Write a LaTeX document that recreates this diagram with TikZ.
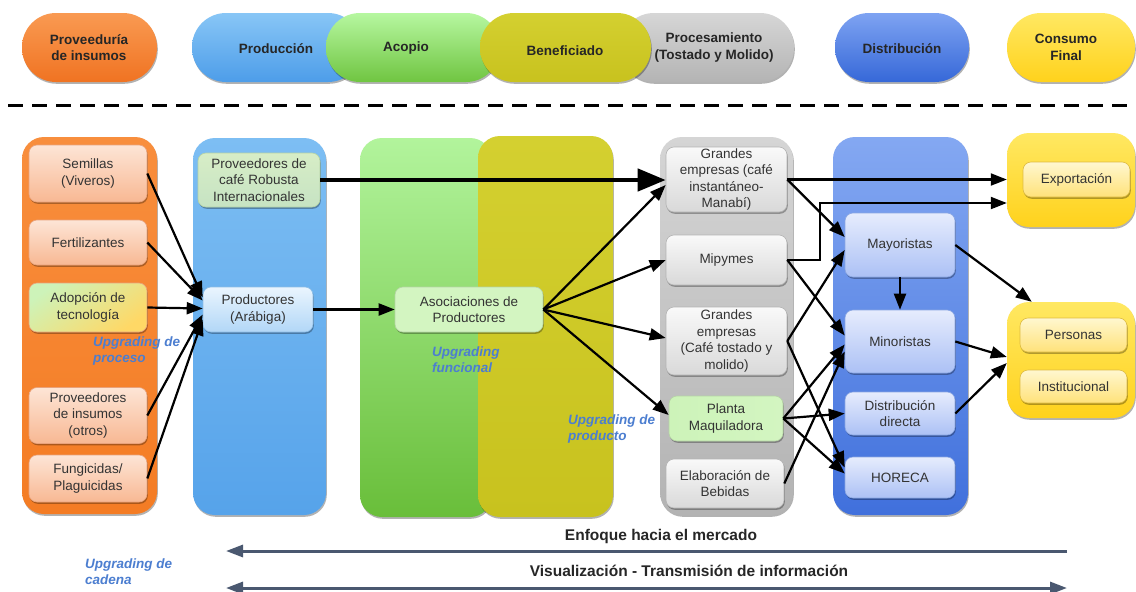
\documentclass[tikz,border=0pt]{standalone}
\usepackage{fontspec}
\setmainfont{Liberation Sans}
\usetikzlibrary{arrows.meta,shadows,calc}

\definecolor{provT}{HTML}{F99A52}\definecolor{provB}{HTML}{F07322}
\definecolor{orT}{HTML}{F88E3D}\definecolor{orB}{HTML}{F47C24}
\definecolor{peachT}{HTML}{FDE5D6}\definecolor{peachB}{HTML}{F8B893}\definecolor{peachD}{HTML}{E9A27C}
\definecolor{bluT}{HTML}{88C6F6}\definecolor{bluB}{HTML}{4D9DE9}
\definecolor{cbluT}{HTML}{7DBEF3}\definecolor{cbluB}{HTML}{56A3EA}
\definecolor{grnT}{HTML}{B6F7A0}\definecolor{grnB}{HTML}{70C541}
\definecolor{cgrnT}{HTML}{B2F49C}\definecolor{cgrnB}{HTML}{69BE3A}
\definecolor{olT}{HTML}{D4D030}\definecolor{olB}{HTML}{C8C21E}
\definecolor{greyT}{HTML}{D6D6D6}\definecolor{greyB}{HTML}{B4B4B4}
\definecolor{cgrT}{HTML}{D5D5D5}\definecolor{cgrB}{HTML}{B3B3B3}
\definecolor{gboxT}{HTML}{F9F9F9}\definecolor{gboxB}{HTML}{D9D9D9}\definecolor{gboxD}{HTML}{B3B3B3}
\definecolor{distT}{HTML}{7EA3F2}\definecolor{distB}{HTML}{3668D8}
\definecolor{cdT}{HTML}{84A8F2}\definecolor{cdB}{HTML}{4070DC}
\definecolor{lbT}{HTML}{E6ECFD}\definecolor{lbB}{HTML}{ACC1F5}\definecolor{lbD}{HTML}{8AA6E2}
\definecolor{yelT}{HTML}{FFE862}\definecolor{yelB}{HTML}{FFD21C}
\definecolor{ybT}{HTML}{FFF7CF}\definecolor{ybB}{HTML}{FFE27A}\definecolor{ybD}{HTML}{DDBB40}
\definecolor{prodbT}{HTML}{EAF5FE}\definecolor{prodbB}{HTML}{B2D7F7}\definecolor{prodbD}{HTML}{8DBDE6}
\definecolor{robT}{HTML}{D7EDC6}\definecolor{robB}{HTML}{C6E3C3}\definecolor{robD}{HTML}{B5D3A5}
\definecolor{gyG}{HTML}{CDF3B9}\definecolor{gyY}{HTML}{FFD866}
\definecolor{asocG}{HTML}{D3F5C1}\definecolor{asocY}{HTML}{F3EDA4}
\definecolor{upgblue}{HTML}{4C7ED0}
\definecolor{slate}{HTML}{4A5870}
\definecolor{hdtext}{HTML}{262626}
\definecolor{boxtext}{HTML}{333333}

\tikzset{
  shadowed/.style={drop shadow={shadow xshift=0.8pt,shadow yshift=-1.8pt,opacity=0.3,fill=black}},
  cont/.style={rounded corners=22pt, inner sep=0pt, shadowed},
  pill/.style={rounded corners=34pt, inner sep=0pt, minimum height=69pt, shadowed},
  htext/.style={font=\fontsize{13.5}{16.5}\selectfont\bfseries, text=hdtext, align=center, inner sep=0pt},
  box/.style={rounded corners=8pt, inner sep=0pt, align=center, font=\fontsize{13.5}{16.5}\selectfont, text=boxtext, shadowed, line width=0.6pt},
  peach/.style={box, top color=peachT, bottom color=peachB, draw=peachD},
  gbox/.style={box, top color=gboxT, bottom color=gboxB, draw=gboxD},
  lbox/.style={box, top color=lbT, bottom color=lbB, draw=lbD},
  ybox/.style={box, top color=ybT, bottom color=ybB, draw=ybD},
  arr/.style={line width=2.2pt, -{Triangle[length=16pt,width=12pt]}},
  bigarr/.style={line width=4.5pt, -{Triangle[length=28pt,width=22pt]}},
  upg/.style={font=\fontsize{13.5}{16}\selectfont\bfseries\itshape, text=upgblue, align=left, inner sep=0pt, anchor=west},
  barr/.style={draw=slate, line width=3pt},
  btext/.style={font=\fontsize{15.5}{18}\selectfont\bfseries, text=black!85, inner sep=0pt},
}

\begin{document}
\begin{tikzpicture}[x=1pt,y=-1pt]
\useasboundingbox (0,0) rectangle (1136,592);
\fill[white] (0,0) rectangle (1136,592);

% ---------- header pills ----------
\node[pill, top color=provT, bottom color=provB, minimum width=135pt] (hprov) at (89.5,47.5) {};
\node[pill, top color=bluT, bottom color=bluB, minimum width=170pt] (hprod) at (277,47.5) {};
\node[pill, top color=grnT, bottom color=grnB, minimum width=174pt] (hacop) at (413,47.5) {};
\node[pill, top color=greyT, bottom color=greyB, minimum width=174pt] (hproc) at (707,47.5) {};
\node[pill, top color=olT, bottom color=olB, minimum width=171pt] (hbenef) at (565.5,47.5) {};
\node[pill, top color=distT, bottom color=distB, minimum width=134pt] (hdist) at (902,47.5) {};
\node[pill, top color=yelT, bottom color=yelB, minimum width=128pt] (hcons) at (1071,47.5) {};

\node[htext] (tprov) at (89,47.5) {Proveeduría\\de insumos};
\node[htext] (tprod) at (276,49) {Producción};
\node[htext] (tacop) at (406,48) {Acopio};
\node[htext] (tbenef) at (565,51) {Beneficiado};
\node[htext] (tproc) at (714,47.5) {Procesamiento\\(Tostado y Molido)};
\node[htext] (tdist) at (902,49) {Distribución};
\node[htext] (tcons) at (1066,47.5) {Consumo\\Final};

% ---------- dashed separator ----------
\coordinate (dashL) at (8,105);
\coordinate (dashR) at (1136,105);
\draw[line width=3pt, dash pattern=on 15pt off 9pt] (dashL) -- (dashR);

% ---------- containers ----------
\node[cont, top color=orT, bottom color=orB, minimum width=135pt, minimum height=377pt] (corange) at (89.5,325.5) {};
\node[cont, top color=cbluT, bottom color=cbluB, minimum width=133pt, minimum height=377pt] (cprod) at (259.5,326.5) {};
\node[cont, top color=cgrnT, bottom color=cgrnB, minimum width=132pt, minimum height=379pt] (cacop) at (426,327.5) {};
\node[cont, top color=olT, bottom color=olB, minimum width=135pt, minimum height=381pt] (cbenef) at (545.5,326.5) {};
\node[cont, top color=cgrT, bottom color=cgrB, minimum width=133pt, minimum height=378pt] (cproc) at (726.5,326) {};
\node[cont, top color=cdT, bottom color=cdB, minimum width=135pt, minimum height=378pt] (cdist) at (900.5,326) {};
\node[cont, top color=yelT, bottom color=yelB, minimum width=128pt, minimum height=94pt] (cexp) at (1071,180) {};
\node[cont, top color=yelT, bottom color=yelB, minimum width=128pt, minimum height=116pt] (ccons) at (1071,360) {};

% ---------- inner boxes ----------
\node[peach, minimum width=118pt, minimum height=57pt] (semillas) at (88,173.5) {Semillas\\(Viveros)};
\node[peach, minimum width=118pt, minimum height=45pt] (fert) at (88,242.5) {Fertilizantes};
\node[box, top color=gyG, bottom color=gyY, shading angle=35, draw=peachD, minimum width=118pt, minimum height=49pt] (adop) at (88,307.5) {Adopción de\\tecnología};
\node[peach, minimum width=118pt, minimum height=56pt] (provotros) at (88,415.5) {Proveedores\\de insumos\\(otros)};
\node[peach, minimum width=118pt, minimum height=47pt] (fung) at (88,478.5) {Fungicidas/\\Plaguicidas};

\node[box, top color=robT, bottom color=robB, draw=robD, minimum width=122pt, minimum height=54pt] (robusta) at (259,180) {Proveedores de\\café Robusta\\Internacionales};
\node[box, top color=prodbT, bottom color=prodbB, draw=prodbD, minimum width=110pt, minimum height=45pt] (productores) at (258,309.5) {Productores\\(Arábiga)};

\node[box, left color=asocG, middle color=asocY, right color=asocG, draw=robD, minimum width=148pt, minimum height=45pt] (asoc) at (469,309.5) {Asociaciones de\\Productores};

\node[gbox, minimum width=121pt, minimum height=65pt] (ginst) at (726.5,179.5) {Grandes\\empresas (café\\instantáneo-\\Manabí)};
\node[gbox, minimum width=121pt, minimum height=50pt] (mipymes) at (726.5,260) {Mipymes};
\node[gbox, minimum width=121pt, minimum height=68pt] (gtost) at (726.5,341) {Grandes\\empresas\\(Café tostado y\\molido)};
\node[box, left color=gyG, middle color=asocY, right color=asocG, draw=robD, minimum width=114pt, minimum height=45pt] (planta) at (726,418.5) {Planta\\Maquiladora};
\node[gbox, minimum width=118pt, minimum height=49pt] (elab) at (725,483.5) {Elaboración de\\Bebidas};

\node[lbox, minimum width=110pt, minimum height=64pt] (mayor) at (900,245) {Mayoristas};
\node[lbox, minimum width=110pt, minimum height=63pt] (minor) at (900,341.5) {Minoristas};
\node[lbox, minimum width=110pt, minimum height=43pt] (dirc) at (900,413.5) {Distribución\\directa};
\node[lbox, minimum width=110pt, minimum height=41pt] (horeca) at (900,477.5) {HORECA};

\node[ybox, minimum width=107pt, minimum height=35pt] (export) at (1076.5,179.5) {Exportación};
\node[ybox, minimum width=107pt, minimum height=34pt] (personas) at (1073.5,335) {Personas};
\node[ybox, minimum width=107pt, minimum height=33pt] (instit) at (1073.5,386.5) {Institucional};

% ---------- connectors ----------
\draw[arr] (semillas.east) -- ($(productores.west)+(0,-12)$);
\draw[arr] (fert.east) -- ($(productores.west)+(0,-9)$);
\draw[arr] (adop.east) -- ($(productores.west)+(0,-1)$);
\draw[arr] (provotros.east) -- ($(productores.west)+(0,5)$);
\draw[arr] (fung.east) -- ($(productores.west)+(0,10)$);

\draw[arr] (productores.east) -- (asoc.west);
\draw[bigarr] (robusta.east) -- (robusta.east -| ginst.west);

\draw[arr] (asoc.east) -- ($(ginst.west)+(0,5.5)$);
\draw[arr] (asoc.east) -- (mipymes.west);
\draw[arr] (asoc.east) -- ($(gtost.west)+(0,-3)$);
\draw[arr] (asoc.east) -- ($(planta.west)+(0,-3.5)$);

\draw[arr] (ginst.east) -- (ginst.east -| cexp.west);
\draw[arr] (ginst.east) -- ($(mayor.west)+(0,-8)$);
\draw[arr] (mipymes.east) -- ($(mipymes.east)+(33,0)$) |- ($(cexp.west)+(0,23)$);
\draw[arr] (mipymes.east) -- ($(minor.west)+(0,-6)$);
\draw[arr] (gtost.east) -- ($(mayor.west)+(0,5)$);
\draw[arr] (gtost.east) -- ($(horeca.west)+(0,-10)$);
\draw[arr] (planta.east) -- ($(minor.west)+(0,3)$);
\draw[arr] (planta.east) -- (dirc.west);
\draw[arr] (planta.east) -- ($(horeca.west)+(0,-4)$);
\draw[arr] (elab.east) -- ($(minor.west)+(0,10)$);

\draw[arr] (mayor.south) -- (minor.north);
\draw[arr] (mayor.east) -- ($(ccons.north west)+(25,0)$);
\draw[arr] (minor.east) -- ($(ccons.west)+(0,-3)$);
\draw[arr] (dirc.east) -- ($(ccons.west)+(0,3)$);

% ---------- upgrading labels ----------
\node[upg] (upproc) at (93,351) {Upgrading de\\proceso};
\node[upg] (upfunc) at (432,360) {Upgrading\\funcional};
\node[upg] (upprod) at (568,429) {Upgrading de\\producto};
\node[upg] (upcad) at (85,572) {Upgrading de\\cadena};

% ---------- bottom arrows ----------
\coordinate (eR) at (1067,551);
\coordinate (eL) at (226,551);
\coordinate (vL) at (226,588);
\coordinate (vR) at (1067,588);
\draw[barr, -{Triangle[length=17pt,width=12pt]}] (eR) -- (eL);
\draw[barr, {Triangle[length=17pt,width=12pt]}-{Triangle[length=17pt,width=12pt]}] (vL) -- (vR);
\node[btext] (tenf) at (661,536) {Enfoque hacia el mercado};
\node[btext] (tvis) at (689,571) {Visualización - Transmisión de información};
\end{tikzpicture}
\end{document}
